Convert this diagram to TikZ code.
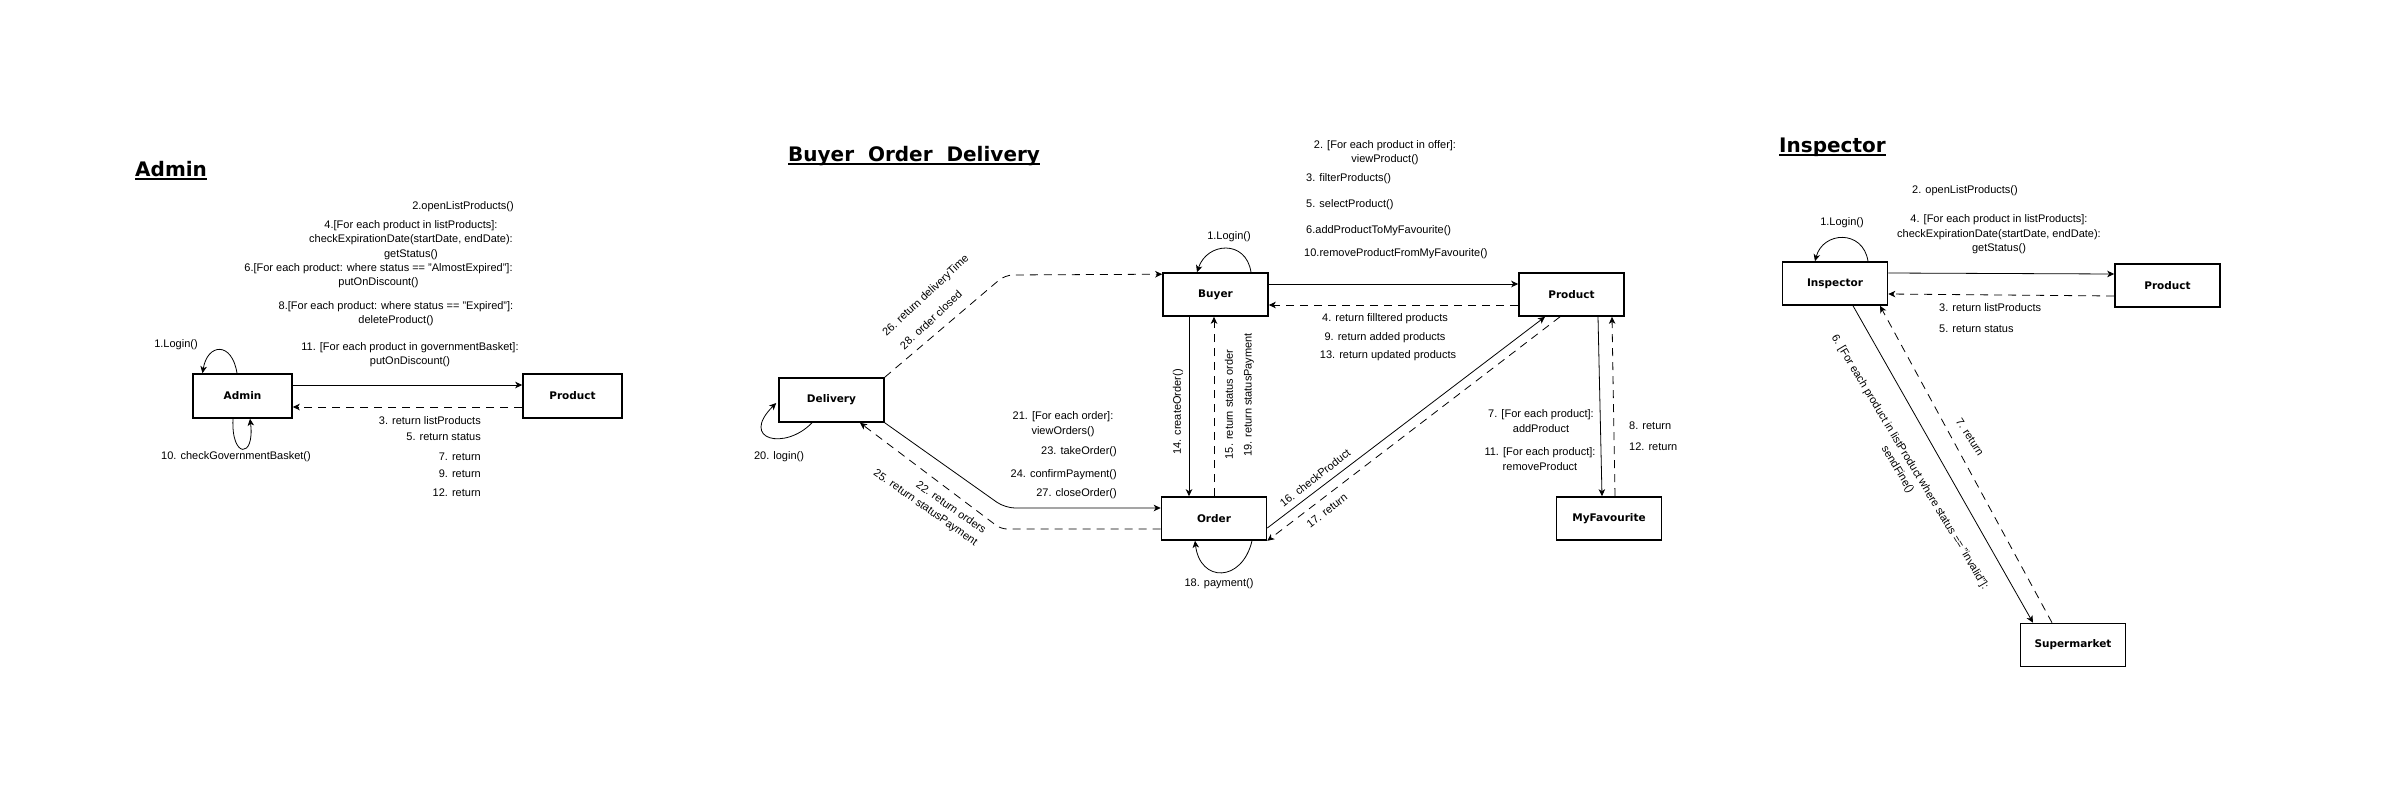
\documentclass[tikz,border=0pt]{standalone}
\usepackage{fontspec}
\setmainfont{Liberation Sans}
\newfontfamily\boxfont{DejaVu Sans}
\usetikzlibrary{arrows.meta}
\begin{document}
\begin{tikzpicture}[x=1pt,y=-1pt,
  obj/.style={draw, line width=1.6pt, minimum width=105pt, minimum height=43pt, inner sep=0pt,
    font=\boxfont\bfseries\fontsize{10.5}{12}\selectfont},
  lbl/.style={font=\fontsize{11}{14.5}\selectfont, inner sep=0pt, align=center},
  ttl/.style={font=\boxfont\bfseries\fontsize{20}{24}\selectfont, inner sep=0pt, anchor=base west},
  msg/.style={-{Stealth[length=7pt,width=6.5pt,inset=2pt]}, line width=0.8pt},
  ret/.style={msg, dash pattern=on 8pt off 6pt}]
\fill[white] (0,0) rectangle (2394,801);
\useasboundingbox (0,0) rectangle (2394,801);

% ---------------- Admin ----------------
\node[ttl] (t1) at (135,176) {Admin};
\draw[line width=2pt] ([yshift=-3pt]t1.base west) -- ([yshift=-3pt]t1.base east);
\node[obj, minimum width=99pt, minimum height=44pt] (admin) at (242.5,396) {Admin};
\node[obj, minimum width=99pt, minimum height=44pt] (aprod) at (572.5,396) {Product};
\draw[msg] ([yshift=11pt]admin.east) -- ([yshift=11pt]aprod.west);
\draw[ret] ([yshift=-11pt]aprod.west) -- ([yshift=-11pt]admin.east);
\draw[msg] ([xshift=-5.5pt]admin.north) .. controls +(-5,-32) and +(5,-30) .. ([xshift=-40pt]admin.north);
\draw[msg] ([xshift=-9.5pt]admin.south) .. controls +(-2,40) and +(5,40) .. ([xshift=7.5pt]admin.south);
\node[lbl] (a1) at (176,345) {1.Login()};
\node[lbl] (a10) at (236,457) {10. checkGovernmentBasket()};
\node[lbl, anchor=east] (a2) at (514,207) {2.openListProducts()};
\node[lbl] (a4) at (411,240) {4.[For each product in listProducts]:\\checkExpirationDate(startDate, endDate):\\getStatus()};
\node[lbl] (a6) at (378.5,275.5) {6.[For each product: where status == "AlmostExpired"]:\\putOnDiscount()};
\node[lbl] (a8) at (396,313.5) {8.[For each product: where status == "Expired"]:\\deleteProduct()};
\node[lbl] (a11) at (410,354.5) {11. [For each product in governmentBasket]:\\putOnDiscount()};
\node[lbl, anchor=east] (a3) at (481,421) {3. return listProducts};
\node[lbl, anchor=east] (a5) at (481,437) {5. return status};
\node[lbl, anchor=east] (a7) at (481,457) {7. return};
\node[lbl, anchor=east] (a9) at (481,474) {9. return};
\node[lbl, anchor=east] (a12) at (481,493) {12. return};

% ---------------- Buyer Order Delivery ----------------
\node[ttl] (t2) at (788,161) {Buyer\ \ Order\ \ Delivery};
\draw[line width=2pt] ([yshift=-3pt]t2.base west) -- ([yshift=-3pt]t2.base east);
\node[obj, minimum height=44pt] (deliv) at (831.5,400) {Delivery};
\node[obj] (buyer) at (1215.5,294.5) {Buyer};
\node[obj] (order) at (1214,518.5) {Order};
\node[obj] (bprod) at (1571.5,294.5) {Product};
\node[obj] (myfav) at (1609,518.5) {MyFavourite};

% buyer <-> product
\draw[msg] ([yshift=10.5pt]buyer.east) -- ([yshift=10.5pt]bprod.west);
\draw[ret] ([yshift=-10.5pt]bprod.west) -- ([yshift=-10.5pt]buyer.east);
% buyer <-> order
\coordinate (bo1) at ([xshift=-26.5pt]buyer.south);
\draw[msg] (bo1) -- (bo1 |- order.north);
\draw[ret] (order.north) -- (order.north |- buyer.south);
% buyer login
\draw[msg] ([xshift=35.5pt]buyer.north) .. controls +(-5,-33) and +(10,-30) .. ([xshift=-18.5pt]buyer.north);
\node[lbl] (b1) at (1229,237) {1.Login()};
% delivery -> buyer
\coordinate (bd1) at (1005,275);
\draw[ret, rounded corners=8pt] (deliv.north east) -- (bd1) -- ([yshift=-2pt]buyer.north west);
\node[lbl, rotate=43] (b26) at (926,296) {26. return deliveryTime};
\node[lbl, rotate=43] (b28) at (931,320) {28. order closed};
% delivery -> order
\coordinate (bd2) at (1005,508);
\draw[msg, rounded corners=10pt] (deliv.south east) -- (bd2) -- ([yshift=10.5pt]order.west);
\coordinate (bd3) at (1001,529);
\draw[ret, rounded corners=6pt] ([yshift=-10.5pt]order.west) -- (bd3) -- ([xshift=28.5pt]deliv.south);
\node[lbl, align=right, rotate=-35] (b22) at (929.5,502) {22. return orders\\25. return statusPayment};
% delivery login
\draw[msg] ([xshift=-19.5pt]deliv.south) .. controls +(-27,28) and +(-37,37) .. ([xshift=-2pt,yshift=-3pt]deliv.west);
\node[lbl] (b20) at (779,457) {20. login()};
% order labels
\node[lbl] (b21) at (1063,424) {21. [For each order]:\\viewOrders()};
\node[lbl, anchor=east] (b23) at (1117,452) {23. takeOrder()};
\node[lbl, anchor=east] (b24) at (1117,475) {24. confirmPayment()};
\node[lbl, anchor=east] (b27) at (1117,494) {27. closeOrder()};
\node[lbl, rotate=90] (b14) at (1178,412) {14. createOrder()};
\node[lbl, rotate=90] (b15) at (1229,404.5) {15. return status order};
\node[lbl, rotate=90] (b19) at (1249,395) {19. return statusPayment};
% order payment loop
\draw[msg] ([xshift=38pt]order.south) .. controls +(-10,42) and +(5,42) .. ([xshift=-19pt]order.south);
\node[lbl] (b18) at (1219,584) {18. payment()};
% order <-> product
\draw[msg] ([yshift=-9.5pt]order.east) -- ([xshift=-26.5pt]bprod.south);
\draw[ret] ([xshift=-11.5pt]bprod.south) -- (order.south east);
\node[lbl, rotate=38] (b16) at (1315,478) {16. checkProduct};
\node[lbl, rotate=38] (b17) at (1327,511) {17. return};
% product <-> myfavourite
\draw[msg] ([xshift=26.5pt]bprod.south) -- ([xshift=-7pt]myfav.north);
\draw[ret] ([xshift=6pt]myfav.north) -- ([xshift=40.5pt]bprod.south);
\node[lbl] (b7) at (1541,421) {7. [For each product]:\\addProduct};
\node[lbl] (b11) at (1540,459) {11. [For each product]:\\removeProduct};
\node[lbl, anchor=west] (b8) at (1629,426) {8. return};
\node[lbl, anchor=west] (b12) at (1629,447) {12. return};
% labels above buyer/product
\node[lbl] (b2) at (1385,152.5) {2. [For each product in offer]:\\viewProduct()};
\node[lbl, anchor=west] (b3) at (1306,179) {3. filterProducts()};
\node[lbl, anchor=west] (b5) at (1306,205) {5. selectProduct()};
\node[lbl, anchor=west] (b6) at (1306,231) {6.addProductToMyFavourite()};
\node[lbl, anchor=west] (b10) at (1304,254) {10.removeProductFromMyFavourite()};
\node[lbl] (b4) at (1385,319) {4. return filltered products};
\node[lbl] (b9) at (1385,338) {9. return added products};
\node[lbl] (b13) at (1388,356) {13. return updated products};

% ---------------- Inspector ----------------
\node[ttl] (t3) at (1779,152) {Inspector};
\draw[line width=2pt] ([yshift=-3pt]t3.base west) -- ([yshift=-3pt]t3.base east);
\node[obj] (insp) at (1835,283.5) {Inspector};
\node[obj] (iprod) at (2167.5,285.5) {Product};
\node[obj] (superm) at (2073,645) {Supermarket};
\draw[msg] ([yshift=10.5pt]insp.east) -- ([yshift=11.5pt]iprod.west);
\draw[ret] ([yshift=-10.5pt]iprod.west) -- ([yshift=-10.5pt]insp.east);
\draw[msg] ([xshift=33pt]insp.north) .. controls +(-5,-32) and +(8,-30) .. ([xshift=-20pt]insp.north);
\node[lbl] (i1) at (1842,223) {1.Login()};
\node[lbl] (i2) at (1965,191) {2. openListProducts()};
\node[lbl] (i4) at (1999,234.5) {4. [For each product in listProducts]:\\checkExpirationDate(startDate, endDate):\\getStatus()};
\node[lbl, anchor=west] (i3) at (1939,308) {3. return listProducts};
\node[lbl, anchor=west] (i5) at (1939,329) {5. return status};
\draw[msg] ([xshift=18pt]insp.south) -- ([xshift=-40pt]superm.north);
\draw[ret] ([xshift=-21pt]superm.north) -- ([xshift=45pt]insp.south);
\node[lbl, rotate=-59] (i6) at (1903.5,466) {6. [For each product in listProduct where status == "invalid"]:\\sendFine()};
\node[lbl, rotate=-57] (i7) at (1970,437) {7. return};
\end{tikzpicture}
\end{document}
